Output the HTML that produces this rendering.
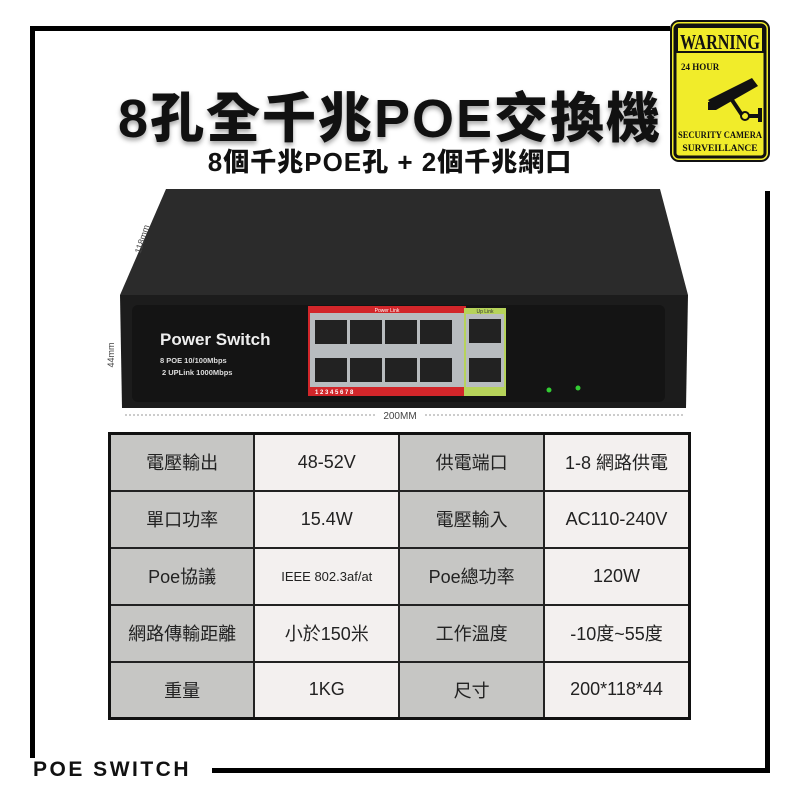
<!DOCTYPE html>
<html><head><meta charset="utf-8">
<style>
*{margin:0;padding:0;box-sizing:border-box}
body{width:800px;height:800px;background:#fff;position:relative;overflow:hidden;font-family:"Liberation Sans","Noto Sans CJK TC",sans-serif}
.ln{position:absolute;background:#000}
.t1{position:absolute;left:0;width:780px;top:74px;text-align:center;font:900 54px "Liberation Sans","Noto Sans CJK TC",sans-serif;color:#111;letter-spacing:2px;text-shadow:0 3px 5px rgba(0,0,0,.35)}
.t2{position:absolute;left:0;width:780px;top:142px;text-align:center;font:900 26px "Liberation Sans","Noto Sans CJK TC",sans-serif;color:#111;letter-spacing:1px}
table{position:absolute;left:108px;top:432px;border-collapse:collapse;width:583px;border:3px solid #111}
td{border:2px solid #222;height:57px;text-align:center;font-size:18px;color:#222;width:146px}
td.g{background:#c6c6c4}td.w{background:#f3f0ef}
</style></head><body>
<div class="ln" style="left:30px;top:26px;width:640px;height:5px"></div>
<div class="ln" style="left:30px;top:26px;width:5px;height:732px"></div>
<div class="ln" style="left:765px;top:191px;width:5px;height:582px"></div>
<div class="ln" style="left:212px;top:768px;width:558px;height:5px"></div>
<div style="position:absolute;left:33px;top:758px;font:900 21px 'Liberation Sans',sans-serif;letter-spacing:2.5px;color:#111">POE&nbsp;SWITCH</div>

<div class="t1">8孔全千兆POE交換機</div>
<div class="t2">8個千兆POE孔 + 2個千兆網口</div>

<svg style="position:absolute;left:670px;top:20px" width="100" height="142" viewBox="0 0 100 142">
<rect x="1" y="1" width="98" height="140" rx="8" fill="#f1ec2a" stroke="#111" stroke-width="2"/>
<rect x="5" y="5" width="90" height="132" rx="4" fill="none" stroke="#111" stroke-width="3"/>
<rect x="5" y="5" width="90" height="28" fill="#111"/>
<rect x="8" y="8" width="84" height="23" fill="#f1ec2a"/>
<text x="50" y="29" text-anchor="middle" font-family="Liberation Serif" font-weight="bold" font-size="21" fill="#111" textLength="80" lengthAdjust="spacingAndGlyphs">WARNING</text>
<text x="11" y="50" font-family="Liberation Serif" font-weight="bold" font-size="9" fill="#111">24 HOUR</text>
<polygon points="38,80 82,58 88,66 46,90" fill="#111"/>
<rect x="38" y="82" width="8" height="8" fill="#111"/>
<line x1="62" y1="80" x2="72" y2="95" stroke="#111" stroke-width="4"/>
<circle cx="75" cy="96" r="4" fill="none" stroke="#111" stroke-width="2"/>
<rect x="78" y="94" width="12" height="4" fill="#111"/><rect x="88" y="88" width="4" height="14" fill="#111"/>
<text x="50" y="118" text-anchor="middle" font-family="Liberation Serif" font-weight="bold" font-size="9.5" fill="#111" textLength="84" lengthAdjust="spacingAndGlyphs">SECURITY CAMERA</text>
<text x="50" y="131" text-anchor="middle" font-family="Liberation Serif" font-weight="bold" font-size="9.5" fill="#111">SURVEILLANCE</text>
</svg>

<svg style="position:absolute;left:100px;top:180px" width="600" height="245" viewBox="0 0 600 245">
<polygon points="66,9 560,9 588,115 20,115" fill="#2b2b2b"/>
<polygon points="20,115 588,115 586,228 22,228" fill="#1c1c1c"/>
<rect x="32" y="125" width="533" height="97" rx="6" fill="#141414"/>
<text x="60" y="165" font-size="17" font-weight="bold" fill="#eee">Power Switch</text>
<text x="60" y="183" font-size="7.5" font-weight="bold" fill="#ddd">8 POE 10/100Mbps</text>
<text x="62" y="195" font-size="7.5" font-weight="bold" fill="#ddd">2 UPLink 1000Mbps</text>
<rect x="208" y="126" width="158" height="90" fill="#d2262a"/>
<rect x="210" y="133" width="154" height="74" fill="#b8bcbf"/>
<text x="287" y="132" text-anchor="middle" font-size="5" fill="#fff">Power Link</text>
<g fill="#222">
<rect x="215" y="140" width="32" height="24"/><rect x="250" y="140" width="32" height="24"/><rect x="285" y="140" width="32" height="24"/><rect x="320" y="140" width="32" height="24"/>
<rect x="215" y="178" width="32" height="24"/><rect x="250" y="178" width="32" height="24"/><rect x="285" y="178" width="32" height="24"/><rect x="320" y="178" width="32" height="24"/>
</g>
<text x="215" y="214" font-size="6" fill="#fff" font-weight="bold">1       2     3       4    5       6     7      8</text>
<rect x="364" y="128" width="42" height="88" fill="#b6d35a"/>
<rect x="366" y="134" width="38" height="73" fill="#b8bcbf"/>
<rect x="369" y="139" width="32" height="24" fill="#222"/><rect x="369" y="178" width="32" height="24" fill="#222"/>
<text x="385" y="133" text-anchor="middle" font-size="5" fill="#333">Up Link</text>
<circle cx="449" cy="210" r="2.5" fill="#3c3"/><circle cx="478" cy="208" r="2.5" fill="#3c3"/>
<line x1="25" y1="235" x2="585" y2="235" stroke="#777" stroke-dasharray="2,2" stroke-width="0.8"/>
<rect x="275" y="228" width="50" height="12" fill="#fff"/>
<text x="300" y="239" text-anchor="middle" font-size="10" fill="#444">200MM</text>
<text x="14" y="175" font-size="9" fill="#444" transform="rotate(-90 14 175)" text-anchor="middle">44mm</text>
<text x="45" y="60" font-size="9" fill="#444" transform="rotate(-72 45 60)" text-anchor="middle">118mm</text>
</svg>

<table>
<tr><td class="g">電壓輸出</td><td class="w">48-52V</td><td class="g">供電端口</td><td class="w">1-8 網路供電</td></tr>
<tr><td class="g">單口功率</td><td class="w">15.4W</td><td class="g">電壓輸入</td><td class="w">AC110-240V</td></tr>
<tr><td class="g">Poe協議</td><td class="w" style="font-size:13px">IEEE 802.3af/at</td><td class="g">Poe總功率</td><td class="w">120W</td></tr>
<tr><td class="g">網路傳輸距離</td><td class="w">小於150米</td><td class="g">工作溫度</td><td class="w">-10度~55度</td></tr>
<tr><td class="g">重量</td><td class="w">1KG</td><td class="g">尺寸</td><td class="w">200*118*44</td></tr>
</table>
</body></html>
